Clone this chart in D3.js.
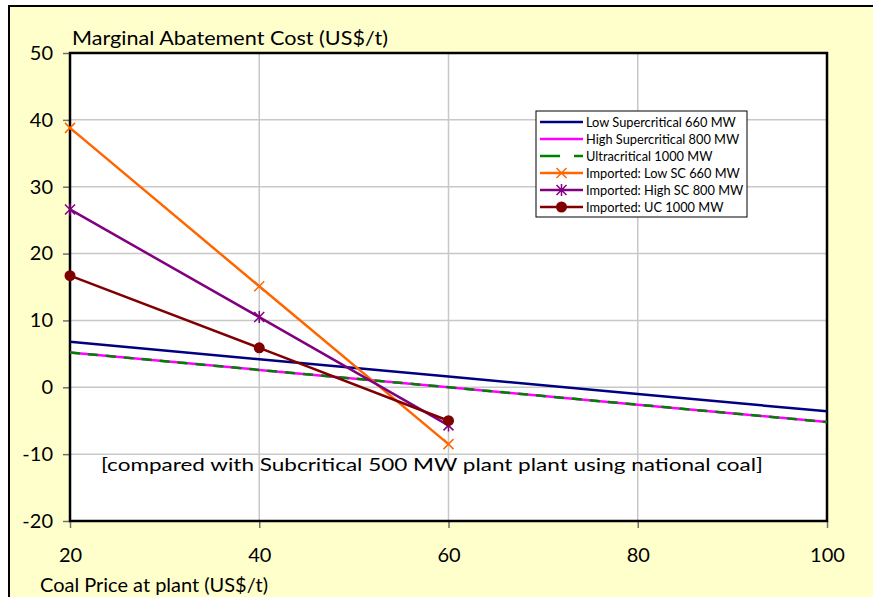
<!DOCTYPE html>
<html>
<head>
<meta charset="utf-8">
<script src="https://cdn.jsdelivr.net/npm/d3@7"></script>
<style>
  body { margin: 0; background: #fff; }
  text { font-family: Lato, "Open Sans", sans-serif; fill: #000; }
</style>
</head>
<body>
<div id="chart"></div>
<script>
// coal price (US$/t)
var coalPrice = [20, 40, 60, 80, 100];
var importedPrice = [20, 40, 60];

// national coal series
var lowSC660 = [6.8, 4.2, 1.6, -1.0, -3.6];
var highSC800 = [5.2, 2.6, 0.0, -2.6, -5.2];
var ultra1000 = [5.2, 2.6, 0.0, -2.6, -5.2];

// imported coal series
var impLowSC660 = [38.8, 15.1, -8.5];
var impHighSC800 = [26.6, 10.5, -5.7];
var impUC1000 = [16.7, 5.9, -5.0];

var xTicks = [20, 40, 60, 80, 100];
var yTicks = [-20, -10, 0, 10, 20, 30, 40, 50];

var legendNames = ["Low Supercritical 660 MW", "High Supercritical 800 MW", "Ultracritical 1000 MW",
  "Imported: Low SC 660 MW", "Imported: High SC 800 MW", "Imported: UC 1000 MW"];

var width = 873, height = 597;
var plotL = 70, plotR = 827, plotT = 53, plotB = 521;

var svg = d3.select("#chart").append("svg")
  .attr("width", width)
  .attr("height", height);

// yellow chart area with frame
svg.append("rect")
  .attr("x", 9).attr("y", 6)
  .attr("width", 880).attr("height", 600)
  .style("fill", "#ffffcc")
  .style("stroke", "#000")
  .style("stroke-width", 2);

var x = d3.scaleLinear().domain([20, 100]).range([plotL, plotR]);
var y = d3.scaleLinear().domain([-20, 50]).range([plotB, plotT]);

// plot area
svg.append("rect")
  .attr("x", plotL).attr("y", plotT)
  .attr("width", plotR - plotL).attr("height", plotB - plotT)
  .style("fill", "#fff");

// gridlines
svg.append("g").selectAll("line")
  .data(yTicks.slice(1, -1))
  .enter().append("line")
  .attr("x1", plotL).attr("x2", plotR)
  .attr("y1", function (d) { return y(d); })
  .attr("y2", function (d) { return y(d); })
  .style("stroke", "#c8c8c8").style("stroke-width", 1.5);

svg.append("g").selectAll("line")
  .data(xTicks.slice(1, -1))
  .enter().append("line")
  .attr("y1", plotT).attr("y2", plotB)
  .attr("x1", function (d) { return x(d); })
  .attr("x2", function (d) { return x(d); })
  .style("stroke", "#c8c8c8").style("stroke-width", 1.5);

// axes (plain hyphen for negatives, as in the original)
var fmt = function (d) { return String(d); };
var yAxis = svg.append("g")
  .attr("transform", "translate(" + plotL + ",0)")
  .call(d3.axisLeft(y).tickValues(yTicks).tickFormat(fmt).tickSize(7).tickPadding(10));
var xAxis = svg.append("g")
  .attr("transform", "translate(0," + plotB + ")")
  .call(d3.axisBottom(x).tickValues(xTicks).tickFormat(fmt).tickSize(7).tickPadding(20));
[yAxis, xAxis].forEach(function (a) {
  a.select(".domain").remove();
  a.selectAll(".tick line").style("stroke", "#707070").style("stroke-width", 1.5);
  a.selectAll(".tick text").style("font-size", "20px").style("font-family", "Lato, sans-serif").attr("fill", "#000");
});

// plot border
svg.append("rect")
  .attr("x", plotL).attr("y", plotT)
  .attr("width", plotR - plotL).attr("height", plotB - plotT)
  .style("fill", "none")
  .style("stroke", "#000")
  .style("stroke-width", 2.5);

var line = d3.line()
  .x(function (d) { return x(d[0]); })
  .y(function (d) { return y(d[1]); });

function addLine(xs, ys, color, dash) {
  var p = svg.append("path")
    .datum(d3.zip(xs, ys))
    .attr("d", line)
    .style("fill", "none")
    .style("stroke", color)
    .style("stroke-width", 2.5);
  if (dash) p.style("stroke-dasharray", dash);
}

function marker(g, type, color, cx, cy) {
  var s = 5;
  if (type == "x" || type == "star") {
    g.append("path")
      .attr("d", "M" + (cx - s) + "," + (cy - s) + "L" + (cx + s) + "," + (cy + s) +
        "M" + (cx - s) + "," + (cy + s) + "L" + (cx + s) + "," + (cy - s) +
        (type == "star" ? "M" + cx + "," + (cy - s - 1) + "L" + cx + "," + (cy + s + 1) : ""))
      .style("stroke", color).style("stroke-width", 1.5).style("fill", "none");
  } else {
    g.append("circle").attr("cx", cx).attr("cy", cy).attr("r", 5.5).style("fill", color);
  }
}

function addMarkers(xs, ys, type, color) {
  var g = svg.append("g");
  xs.forEach(function (v, i) { marker(g, type, color, x(v), y(ys[i])); });
}

addLine(coalPrice, lowSC660, "#000080");
addLine(coalPrice, highSC800, "#ff00ff");
addLine(coalPrice, ultra1000, "#008000", "10,8");
addLine(importedPrice, impLowSC660, "#ff6600");
addMarkers(importedPrice, impLowSC660, "x", "#ff6600");
addLine(importedPrice, impHighSC800, "#800080");
addMarkers(importedPrice, impHighSC800, "star", "#800080");
addLine(importedPrice, impUC1000, "#800000");
addMarkers(importedPrice, impUC1000, "circle", "#800000");

// axis titles and note
svg.append("text").attr("x", 72).attr("y", 45)
  .attr("textLength", 316).attr("lengthAdjust", "spacingAndGlyphs")
  .style("font-size", "19px").text("Marginal Abatement Cost (US$/t)");
svg.append("text").attr("x", 40).attr("y", 592)
  .attr("textLength", 228).attr("lengthAdjust", "spacingAndGlyphs")
  .style("font-size", "19px").text("Coal Price at plant (US$/t)");
svg.append("text").attr("x", 101).attr("y", 471)
  .attr("textLength", 662).attr("lengthAdjust", "spacingAndGlyphs")
  .style("font-size", "18px").text("[compared with Subcritical 500 MW plant plant using national coal]");

// legend
var lg = svg.append("g");
lg.append("rect")
  .attr("x", 536).attr("y", 111)
  .attr("width", 211).attr("height", 106)
  .style("fill", "#fff").style("stroke", "#000").style("stroke-width", 1);

var legendColors = ["#000080", "#ff00ff", "#008000", "#ff6600", "#800080", "#800000"];
var legendMarks = [null, null, null, "x", "star", "circle"];

legendNames.forEach(function (name, i) {
  var ly = 122 + i * 17;
  var l = lg.append("line")
    .attr("x1", 540).attr("x2", 583)
    .attr("y1", ly).attr("y2", ly)
    .style("stroke", legendColors[i]).style("stroke-width", 2.5);
  if (i == 2) l.style("stroke-dasharray", "20,14");
  if (legendMarks[i]) marker(lg, legendMarks[i], legendColors[i], 561.5, ly);
  lg.append("text")
    .attr("x", 586).attr("y", ly + 4.5)
    .style("font-size", "12.8px")
    .text(name);
});
</script>
</body>
</html>
